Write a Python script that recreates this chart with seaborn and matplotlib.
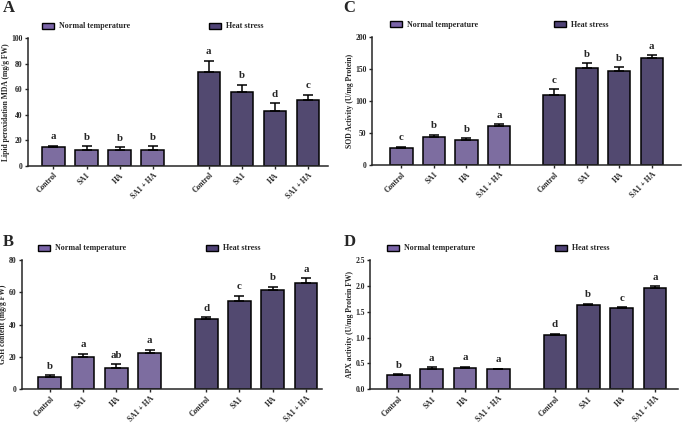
import numpy as np
import pandas as pd
import matplotlib
matplotlib.use("Agg")
import matplotlib.pyplot as plt
import seaborn as sns
from matplotlib.patches import Patch

# DATA
treatments = ["Control", "SA1", "HA", "SA1 + HA"]
conditions = ["Normal temperature", "Heat stress"]

mda_mean = [14.8, 12.3, 12.3, 12.3, 73.3, 57.7, 43.0, 51.7]
mda_err = [1.0, 3.2, 2.2, 3.2, 8.8, 5.8, 6.0, 4.0]
mda_letters = ["a", "b", "b", "b", "a", "b", "d", "c"]

sod_mean = [27.0, 43.6, 39.5, 60.8, 108.6, 151.7, 147.0, 167.3]
sod_err = [1.5, 3.2, 2.1, 3.1, 9.8, 7.3, 5.7, 3.7]
sod_letters = ["c", "b", "b", "a", "c", "b", "b", "a"]

gsh_mean = [7.8, 20.0, 13.4, 22.5, 43.5, 54.8, 61.6, 65.8]
gsh_err = [0.9, 2.0, 1.9, 2.0, 1.2, 3.2, 1.9, 3.1]
gsh_letters = ["b", "a", "ab", "a", "d", "c", "b", "a"]

apx_mean = [0.27, 0.39, 0.405, 0.387, 1.044, 1.637, 1.572, 1.952]
apx_err = [0.02, 0.035, 0.025, 0.013, 0.032, 0.019, 0.018, 0.045]
apx_letters = ["b", "a", "a", "a", "d", "b", "c", "a"]

# bar positions: two groups of four with a gap
positions = [0, 1, 2, 3, 4.7, 5.7, 6.7, 7.7]
colors = {"Normal temperature": "#7a64a8", "Heat stress": "#4f4276"}

sns.set_style("ticks")
plt.rcParams["font.family"] = ["Liberation Serif", "DejaVu Serif"]
plt.rcParams["font.weight"] = "bold"

fig = plt.figure(figsize=(6.83, 4.23), dpi=100)

# tag, axes rect, data, ylabel, ymax, step, tick format, xlim, tag position
panels = [
    ("A", [0.041, 0.608, 0.439, 0.302], mda_mean, mda_err, mda_letters,
     "Lipid peroxidation MDA (mg/g FW)", 100, 20, "{:.0f}", (-0.77, 8.3), (0.004, 0.962)),
    ("C", [0.545, 0.610, 0.452, 0.303], sod_mean, sod_err, sod_letters,
     "SOD Activity (U/mg Protein)", 200, 50, "{:.0f}", (-0.9, 8.6), (0.503, 0.962)),
    ("B", [0.032, 0.080, 0.439, 0.305], gsh_mean, gsh_err, gsh_letters,
     "GSH content (mg/g FW)", 80, 20, "{:.0f}", (-0.84, 8.17), (0.004, 0.41)),
    ("D", [0.542, 0.080, 0.451, 0.305], apx_mean, apx_err, apx_letters,
     "APX activity (U/mg Protein FW)", 2.5, 0.5, "{:.1f}", (-0.85, 8.4), (0.503, 0.41)),
]

for tag, rect, mean, err, letters, ylabel, ymax, step, fmt, xlim, tagpos in panels:
    ax = fig.add_axes(rect)
    df = pd.DataFrame({
        "pos": positions,
        "value": mean,
        "cond": [conditions[0]] * 4 + [conditions[1]] * 4,
    })
    sns.barplot(data=df, x="pos", y="value", hue="cond", palette=colors,
                native_scale=True, dodge=False, width=0.68, legend=False,
                edgecolor="black", linewidth=1.1, ax=ax)
    ax.errorbar(positions, mean, yerr=[np.zeros(len(err)), err], fmt="none",
                ecolor="black", elinewidth=1.1, capsize=3.5, capthick=1.1)
    for x, m, e, lab in zip(positions, mean, err, letters):
        ax.text(x, m + e + ymax * 0.035, lab, ha="center", va="bottom",
                fontsize=7.8, fontweight="bold")

    ax.set_xlim(*xlim)
    ax.set_ylim(0, ymax)
    yt = np.arange(0, ymax + step / 2, step)
    ax.set_yticks(yt)
    ax.set_yticklabels([fmt.format(v) for v in yt], fontsize=5.5, fontweight="bold")
    ax.set_xticks(positions)
    ax.set_xticklabels(treatments * 2, rotation=45, ha="right",
                       rotation_mode="anchor", fontsize=5.5, fontweight="bold")
    ax.tick_params(axis="both", length=2.5, width=1, pad=1.5)
    ax.set_xlabel("")
    ax.set_ylabel(ylabel, fontsize=5.5, fontweight="bold", labelpad=1)
    sns.despine(ax=ax)
    for s in ["left", "bottom"]:
        ax.spines[s].set_linewidth(1.1)

    # legends above the axes, one entry each
    h1 = [Patch(facecolor=colors[conditions[0]], edgecolor="black", linewidth=1)]
    h2 = [Patch(facecolor=colors[conditions[1]], edgecolor="black", linewidth=1)]
    x0 = (positions[0] - 0.35 - xlim[0]) / (xlim[1] - xlim[0])
    x1 = (positions[4] - xlim[0]) / (xlim[1] - xlim[0])
    leg_kw = dict(loc="lower left", frameon=False, fontsize=5.8, handlelength=1.5,
                  handleheight=0.75, borderpad=0, borderaxespad=0, handletextpad=0.6)
    leg1 = ax.legend(h1, [conditions[0]], bbox_to_anchor=(x0, 1.06), **leg_kw)
    ax.add_artist(leg1)
    ax.legend(h2, [conditions[1]], bbox_to_anchor=(x1, 1.06), **leg_kw)

    # panel letter
    fig.text(tagpos[0], tagpos[1], tag, fontsize=12, fontweight="bold", va="bottom")

fig.savefig("out.png", dpi=100)
